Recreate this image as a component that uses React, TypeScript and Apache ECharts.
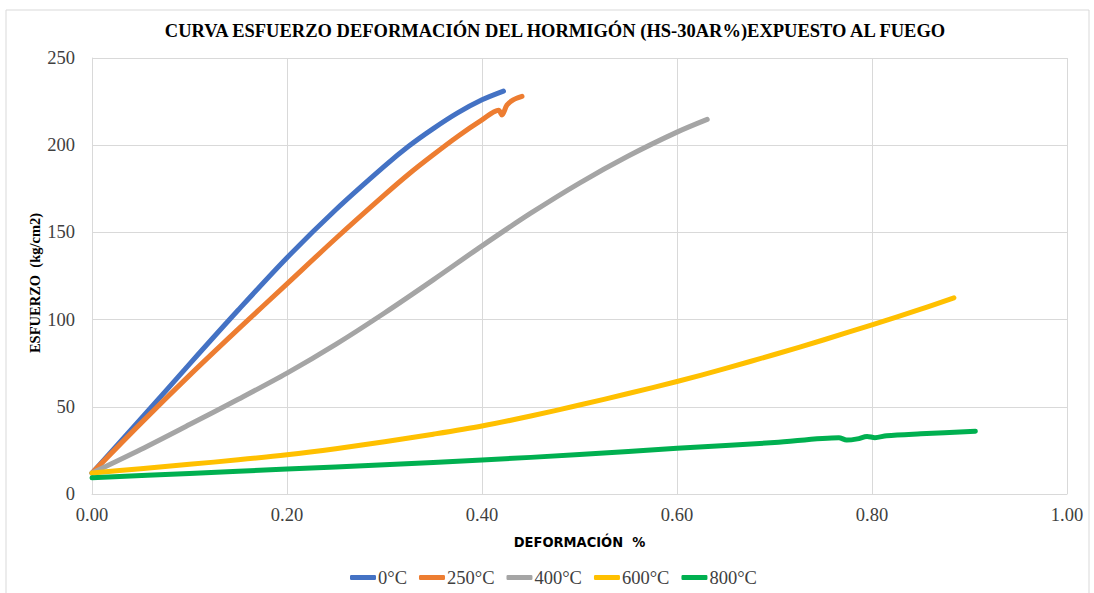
import React, { useEffect, useRef } from "react";
import * as echarts from "echarts";

const TITLE = "CURVA ESFUERZO DEFORMACIÓN DEL HORMIGÓN (HS-30AR%)EXPUESTO AL FUEGO";
const X_NAME = "DEFORMACIÓN  %";
const Y_NAME = "ESFUERZO  (kg/cm2)";
const SERIES_NAMES = ["0°C", "250°C", "400°C", "600°C", "800°C"];
const COLORS = ["#4472C4", "#ED7D31", "#A5A5A5", "#FFC000", "#00B050"];

const x0C = [0, 0.05, 0.1, 0.15, 0.2, 0.25, 0.3, 0.325, 0.35, 0.375, 0.4, 0.422];
const y0C = [12, 43, 74.5, 105.5, 135.5, 163, 188, 199.5, 209.5, 218.5, 226, 231];

const x250C = [0, 0.05, 0.1, 0.15, 0.2, 0.25, 0.3, 0.325, 0.35, 0.375, 0.4, 0.417, 0.4205, 0.4256, 0.432, 0.441];
const y250C = [12, 40.5, 68, 94.5, 120.5, 146.5, 171.5, 183.5, 194.5, 205, 214.5, 220, 217.3, 223, 226, 228];

const x400C = [0, 0.05, 0.1, 0.15, 0.2, 0.25, 0.3, 0.35, 0.4, 0.45, 0.5, 0.55, 0.6, 0.631];
const y400C = [12, 25.5, 39.8, 54.3, 69.3, 85.8, 103.8, 122.8, 142.3, 161, 178.3, 193.8, 207.5, 214.8];

const x600C = [0, 0.05, 0.1, 0.15, 0.2, 0.25, 0.3, 0.35, 0.4, 0.45, 0.5, 0.55, 0.6, 0.65, 0.7, 0.75, 0.8, 0.85, 0.884];
const y600C = [12, 14.5, 17, 19.6, 22.5, 26, 30, 34.3, 39, 44.7, 51, 57.6, 64.5, 72, 80, 88.3, 97, 106, 112.5];

const x800C = [0, 0.1, 0.2, 0.3, 0.4, 0.5, 0.6, 0.7, 0.766, 0.774, 0.785, 0.795, 0.803, 0.815, 0.85, 0.906];
const y800C = [9.3, 11.8, 14.3, 16.8, 19.5, 22.6, 26.2, 29.5, 32.3, 30.9, 31.6, 33, 32.3, 33.4, 34.5, 36];

const X_TICKS = [0, 0.2, 0.4, 0.6, 0.8, 1.0];
const Y_TICKS = [0, 50, 100, 150, 200, 250];

const SERIF = "'Liberation Serif', 'Times New Roman', serif";

function pairs(xs: number[], ys: number[]) {
  return xs.map((x, i) => [x, ys[i]]);
}

export default function App() {
  const ref = useRef<HTMLDivElement>(null);
  useEffect(() => {
    if (!ref.current) return;
    const chart = echarts.init(ref.current, undefined, { renderer: "svg" });
    const allX = [x0C, x250C, x400C, x600C, x800C];
    const allY = [y0C, y250C, y400C, y600C, y800C];
    chart.setOption({
      animation: false,
      backgroundColor: "#ffffff",
      title: {
        text: TITLE,
        left: 555,
        textAlign: "center",
        top: 21,
        padding: 0,
        textStyle: { fontFamily: SERIF, fontWeight: "bold", fontSize: 18.5, color: "#000000" },
      },
      graphic: [
        {
          type: "rect",
          shape: { x: 6, y: 10, width: 1083, height: 600 },
          style: { fill: "none", stroke: "#D9D9D9", lineWidth: 1 },
          silent: true,
          z: -1,
        },
      ],
      legend: {
        data: SERIES_NAMES,
        left: 350,
        top: 568,
        padding: 0,
        icon: "roundRect",
        itemWidth: 26,
        itemHeight: 5,
        itemGap: 12,
        textStyle: { fontFamily: SERIF, fontSize: 18.5, color: "#404040", padding: [0, 0, 0, -3] },
      },
      grid: { left: 92, right: 27, top: 58, bottom: 99 },
      xAxis: {
        type: "value",
        min: X_TICKS[0],
        max: X_TICKS[X_TICKS.length - 1],
        interval: 0.2,
        name: X_NAME,
        nameLocation: "middle",
        nameGap: 40,
        nameMoveOverlap: false,
        nameTextStyle: {
          fontFamily: "'Liberation Sans Narrow', 'DejaVu Sans Condensed', Arial, sans-serif",
          fontWeight: "bold",
          fontSize: 14.5,
          color: "#000000",
        },
        axisLine: { show: true, lineStyle: { color: "#D9D9D9", width: 1 } },
        axisTick: { show: false },
        splitLine: { show: true, lineStyle: { color: "#D9D9D9", width: 1 } },
        axisLabel: {
          margin: 11,
          fontFamily: SERIF,
          fontSize: 18.5,
          color: "#404040",
          formatter: (v: number) => v.toFixed(2),
        },
      },
      yAxis: {
        type: "value",
        min: Y_TICKS[0],
        max: Y_TICKS[Y_TICKS.length - 1],
        interval: 50,
        name: Y_NAME,
        nameLocation: "middle",
        nameGap: 50,
        nameMoveOverlap: false,
        nameRotate: 90,
        nameTextStyle: {
          fontFamily: SERIF,
          fontWeight: "bold",
          fontSize: 14.5,
          color: "#000000",
          padding: [0, 14, 0, 0],
        },
        axisLine: { show: true, lineStyle: { color: "#D9D9D9", width: 1 } },
        axisTick: { show: false },
        splitLine: { show: true, lineStyle: { color: "#D9D9D9", width: 1 } },
        axisLabel: { margin: 17, fontFamily: SERIF, fontSize: 18.5, color: "#404040" },
      },
      series: SERIES_NAMES.map((name, i) => ({
        name,
        type: "line",
        data: pairs(allX[i], allY[i]),
        showSymbol: false,
        symbol: "none",
        smooth: 0.3,
        color: COLORS[i],
        lineStyle: { width: 5, color: COLORS[i], cap: "round", join: "round" },
        emphasis: { disabled: true },
      })),
    });
    return () => chart.dispose();
  }, []);
  return (
    <div
      ref={ref}
      style={{ position: "fixed", left: 0, top: 0, width: 1094, height: 593, background: "#fff" }}
    />
  );
}
